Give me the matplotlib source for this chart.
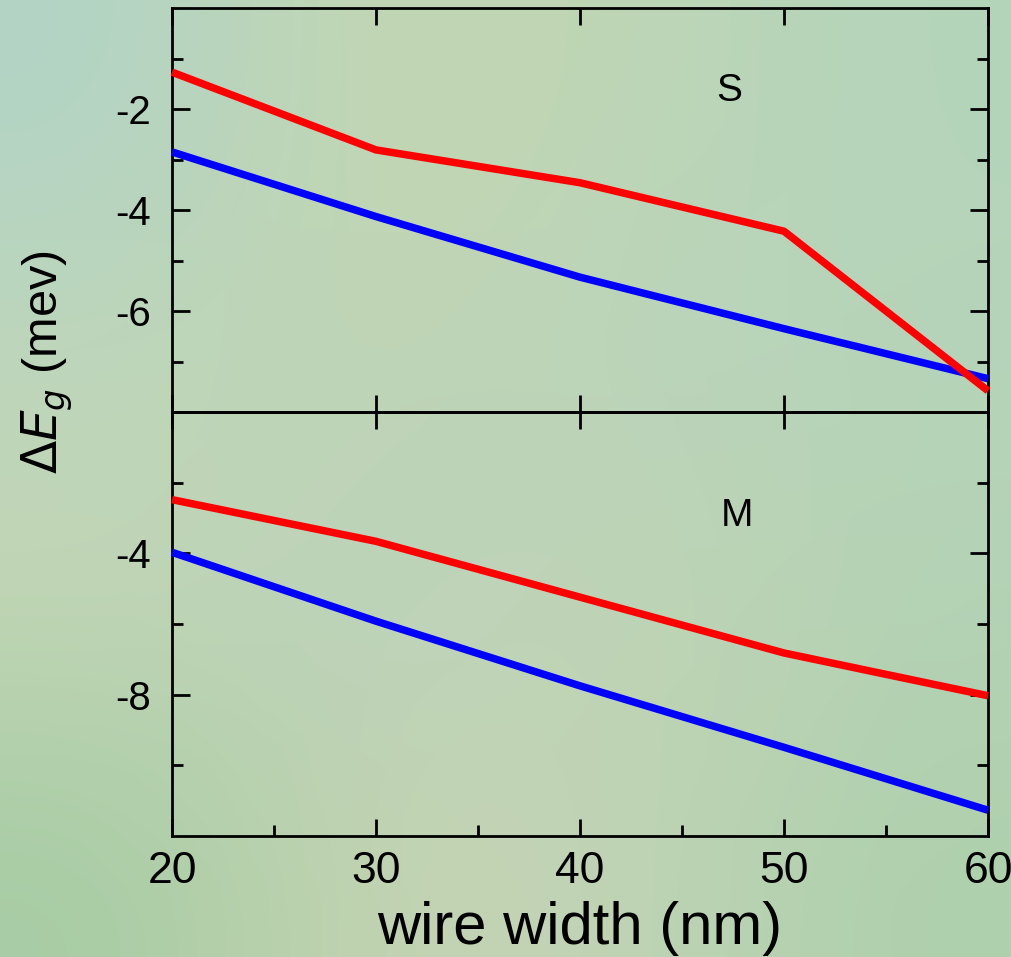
import matplotlib
matplotlib.use("Agg")
import matplotlib.pyplot as plt
import numpy as np

# ---- data ----
width_nm = [20, 30, 40, 50, 60]
s_red = [-1.27, -2.81, -3.46, -4.42, -7.58]
s_blue = [-2.85, -4.13, -5.33, -6.35, -7.34]
m_red = [-2.48, -3.66, -5.24, -6.82, -8.03]
m_blue = [-3.97, -5.92, -7.75, -9.49, -11.27]
x_ticks = [20, 30, 40, 50, 60]
s_yticks = [-2, -4, -6]
m_yticks = [-4, -8]

plt.rcParams['font.family'] = ['Liberation Sans', 'DejaVu Sans']

fig = plt.figure(figsize=(10.12, 9.57), dpi=100)

# soft background wash
bg = fig.add_axes([0, 0, 1, 1], zorder=-10)
bg_colors = np.array([
    [[178, 212, 198], [196, 214, 176], [190, 214, 182], [180, 212, 186]],
    [[190, 214, 186], [192, 212, 178], [186, 212, 190], [182, 212, 184]],
    [[196, 214, 182], [186, 210, 190], [194, 212, 178], [180, 210, 182]],
    [[166, 204, 164], [198, 212, 178], [192, 212, 182], [174, 208, 172]],
]) / 255.0
bg.imshow(bg_colors, aspect='auto', interpolation='bicubic', extent=[0, 1, 0, 1])
bg.set_axis_off()

L, R = 172 / 1012, 988 / 1012
H = 957
ax1 = fig.add_axes([L, 1 - 412 / H, R - L, 404 / H])
ax2 = fig.add_axes([L, 1 - 836 / H, R - L, 424 / H], sharex=ax1)

lw = 5.4
for ax, red, blue in ((ax1, s_red, s_blue), (ax2, m_red, m_blue)):
    ax.patch.set_alpha(0)
    ax.plot(width_nm, blue, color='#0000ff', lw=lw, clip_on=False, solid_capstyle='butt', zorder=3)
    ax.plot(width_nm, red, color='#ff0000', lw=lw, clip_on=False, solid_capstyle='butt', zorder=3)
    for s in ax.spines.values():
        s.set_linewidth(2)

ax1.set_xlim(20, 60)
ax1.set_ylim(-8, 0)
ax1.set_yticks(s_yticks)
ax1.set_yticklabels([str(v) for v in s_yticks], fontsize=29)
ax1.set_yticks([-1, -3, -5, -7], minor=True)

ax2.set_ylim(-12, 0)
ax2.set_yticks(m_yticks)
ax2.set_yticklabels([str(v) for v in m_yticks], fontsize=29)
ax2.set_yticks([-2, -6, -10], minor=True)
ax2.set_xticks(x_ticks)
ax2.set_xticks([25, 35, 45, 55], minor=True)
ax2.set_xticklabels([str(v) for v in x_ticks], fontsize=32)

for ax in (ax1, ax2):
    ax.tick_params(which='both', direction='in', top=True, right=True, width=2)
    ax.tick_params(axis='y', which='major', length=13, pad=15)
    ax.tick_params(axis='y', which='minor', length=8)
    ax.tick_params(axis='x', which='major', length=12, pad=11)
    ax.tick_params(axis='x', which='minor', length=8)

ax1.tick_params(axis='x', which='both', labelbottom=False)
ax1.tick_params(axis='x', which='minor', bottom=False, top=False)
ax2.tick_params(axis='x', which='minor', top=False)

ax1.text(47.3, -1.65, 'S', fontsize=28, ha='center', va='center')
ax2.text(47.7, -2.93, 'M', fontsize=28, ha='center', va='center')

ax2.set_xlabel('wire width (nm)', fontsize=43, labelpad=6)
fig.text(0.047, 1 - 362 / H, r'$\Delta E_g$ (mev)', rotation=90, fontsize=35,
         ha='center', va='center')

fig.savefig('out.png', dpi=100)
